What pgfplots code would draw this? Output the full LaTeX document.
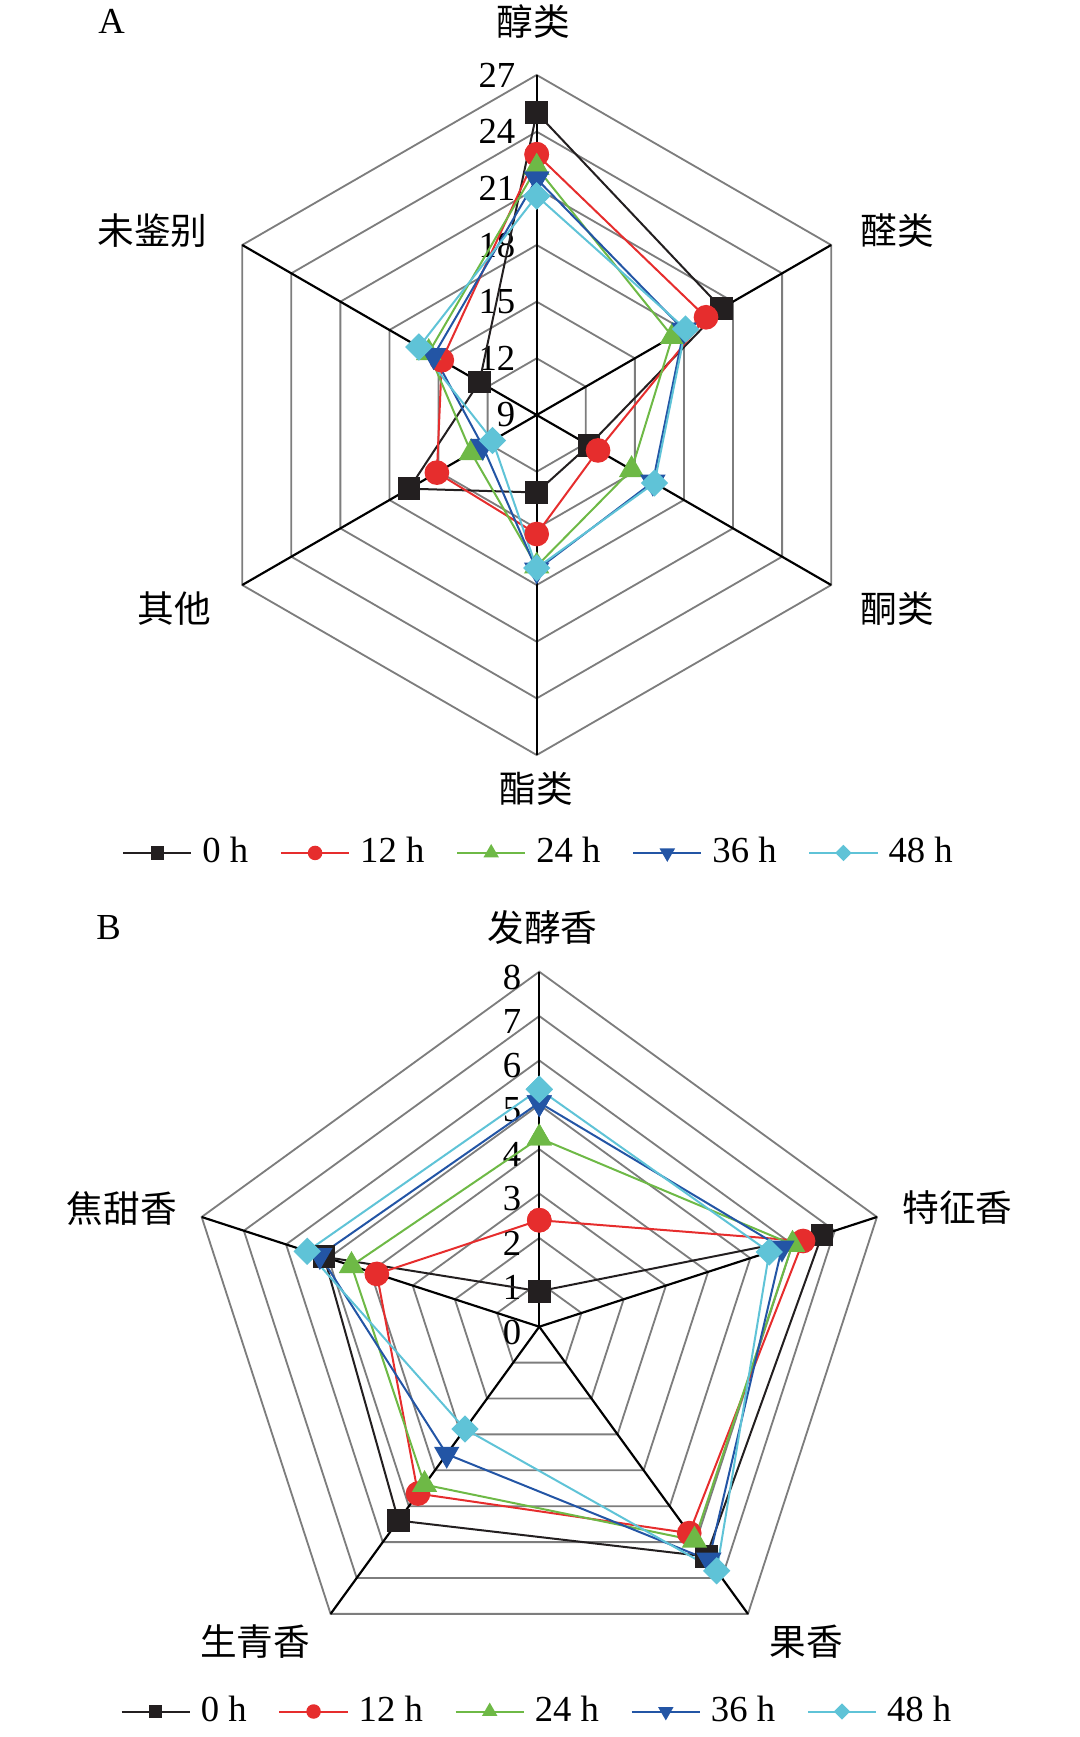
\documentclass[border=0pt]{standalone}
\usepackage{fontspec}
\setmainfont{Liberation Serif}
\newfontfamily\cjk{Noto Sans CJK SC}
\usepackage{pgfplots}
\usepackage{pgfplotstable}
\pgfplotsset{compat=1.18}
\definecolor{c0}{RGB}{35,31,32}
\definecolor{c12}{RGB}{230,45,45}
\definecolor{c24}{RGB}{110,185,70}
\definecolor{c36}{RGB}{35,85,165}
\definecolor{c48}{RGB}{95,195,215}
\definecolor{gridc}{RGB}{125,125,125}

% Panel A: angle (deg) and values per time point
\pgfplotstableread{
a    h0    h12    h24   h36   h48
90   25.0  22.8   22.1  21.5  20.6
30   20.3  19.35  17.3  18.0  18.1
-30  12.2  12.75  14.8  16.1  16.2
-90  13.1  15.3   17.0  17.2  17.1
-150 16.8  15.1   13.0  12.3  11.7
150  12.5  14.8   15.6  15.3  16.2
90   25.0  22.8   22.1  21.5  20.6
}\dataA

% Panel B
\pgfplotstableread{
a    h0    h12    h24   h36   h48
90   0.8   2.4    4.25  5.05  5.35
18   6.7   6.25   6.0   5.75  5.45
-54  6.4   5.75   5.95  6.5   6.8
-126 5.4   4.65   4.4   3.55  2.85
162  5.1   3.85   4.45  5.2   5.5
90   0.8   2.4    4.25  5.05  5.35
}\dataB

\pgfplotsset{
  radar/.style={
    hide axis, clip=false,
    legend columns=5,
    legend cell align=left,
    legend style={draw=none, fill=none, font=\fontsize{11pt}{13pt}\selectfont,
      /tikz/every odd column/.append style={column sep=1pt},
      /tikz/every even column/.append style={column sep=7.5pt}},
    legend image code/.code={\draw[mark repeat=2,mark phase=2,##1,every mark/.append style={scale=0.55}]
      plot coordinates {(0cm,0cm) (0.36cm,0cm) (0.72cm,0cm)};},
  },
  s0/.style={c0, line width=0.6pt, mark=square*, mark size=3.1pt, mark options={solid,fill=c0}},
  s12/.style={c12, line width=0.6pt, mark=*, mark size=3.4pt, mark options={solid,fill=c12}},
  s24/.style={c24, line width=0.6pt, mark=triangle*, mark size=3.8pt, mark options={solid,fill=c24}},
  s36/.style={c36, line width=0.6pt, mark=triangle*, mark size=3.8pt, mark options={solid,fill=c36,rotate=180}},
  s48/.style={c48, line width=0.6pt, mark=square*, mark size=2.6pt, mark options={solid,fill=c48,rotate=45}},
}

\begin{document}
\fontsize{11pt}{13pt}\selectfont
\begin{tikzpicture}[x=0.3pt,y=-0.3pt]
\useasboundingbox (0,0) rectangle (1080,1737);

% ---------- grid A ----------
\begin{scope}[shift={(161.01pt,-124.5pt)},x=5.667pt,y=5.667pt]
  \foreach \k in {3,6,...,18}
    \draw[gridc,line width=0.55pt] (90:\k)--(30:\k)--(-30:\k)--(-90:\k)--(-150:\k)--(150:\k)--cycle;
  \foreach \ang in {90,30,-30,-90,-150,150}
    \draw[black,line width=0.65pt] (0,0)--(\ang:18);
  \foreach \v in {9,12,...,27}
    \node[anchor=east,inner sep=0pt] at (-1.1,{\v-9}) {\v};
\end{scope}

% ---------- grid B ----------
\begin{scope}[shift={(161.79pt,-398.01pt)},x=13.3125pt,y=13.3125pt]
  \foreach \k in {1,...,8}
    \draw[gridc,line width=0.55pt] (90:\k)--(18:\k)--(-54:\k)--(-126:\k)--(162:\k)--cycle;
  \foreach \ang in {90,18,-54,-126,162}
    \draw[black,line width=0.65pt] (0,0)--(\ang:8);
  \foreach \v in {0,...,8}
    \node[anchor=east,inner sep=0pt] at (-0.39,{\v-0.12}) {\v};
\end{scope}

% ---------- axis A ----------
\begin{axis}[radar, at={(161.01pt,-124.5pt)}, anchor=center,
  x=5.667pt, y=5.667pt, xmin=-18, xmax=18, ymin=-18, ymax=18,
  legend style={at={(0.506,-0.144)}, anchor=center}]
\addplot[s0]  table[x expr={(\thisrow{h0}-9)*cos(\thisrow{a})},  y expr={(\thisrow{h0}-9)*sin(\thisrow{a})}]  {\dataA};
\addlegendentry{0 h}
\addplot[s12] table[x expr={(\thisrow{h12}-9)*cos(\thisrow{a})}, y expr={(\thisrow{h12}-9)*sin(\thisrow{a})}] {\dataA};
\addlegendentry{12 h}
\addplot[s24] table[x expr={(\thisrow{h24}-9)*cos(\thisrow{a})}, y expr={(\thisrow{h24}-9)*sin(\thisrow{a})}] {\dataA};
\addlegendentry{24 h}
\addplot[s36] table[x expr={(\thisrow{h36}-9)*cos(\thisrow{a})}, y expr={(\thisrow{h36}-9)*sin(\thisrow{a})}] {\dataA};
\addlegendentry{36 h}
\addplot[s48] table[x expr={(\thisrow{h48}-9)*cos(\thisrow{a})}, y expr={(\thisrow{h48}-9)*sin(\thisrow{a})}] {\dataA};
\addlegendentry{48 h}
\end{axis}

% ---------- axis B ----------
\begin{axis}[radar, at={(161.79pt,-398.01pt)}, anchor=center,
  x=13.3125pt, y=13.3125pt, xmin=-8, xmax=8, ymin=-8, ymax=8,
  legend style={at={(0.5,-0.042)}, anchor=center}]
\addplot[s0]  table[x expr={\thisrow{h0}*cos(\thisrow{a})},  y expr={\thisrow{h0}*sin(\thisrow{a})}]  {\dataB};
\addlegendentry{0 h}
\addplot[s12] table[x expr={\thisrow{h12}*cos(\thisrow{a})}, y expr={\thisrow{h12}*sin(\thisrow{a})}] {\dataB};
\addlegendentry{12 h}
\addplot[s24] table[x expr={\thisrow{h24}*cos(\thisrow{a})}, y expr={\thisrow{h24}*sin(\thisrow{a})}] {\dataB};
\addlegendentry{24 h}
\addplot[s36] table[x expr={\thisrow{h36}*cos(\thisrow{a})}, y expr={\thisrow{h36}*sin(\thisrow{a})}] {\dataB};
\addlegendentry{36 h}
\addplot[s48] table[x expr={\thisrow{h48}*cos(\thisrow{a})}, y expr={\thisrow{h48}*sin(\thisrow{a})}] {\dataB};
\addlegendentry{48 h}
\end{axis}

% ---------- labels ----------
\node[font=\fontsize{11pt}{13pt}\selectfont] at (111.7,21) {A};
\node[font=\fontsize{11pt}{13pt}\selectfont] at (108.6,928) {B};
\begin{scope}[every node/.style={font=\cjk\fontsize{11pt}{13pt}\selectfont}]
\node at (533,21) {醇类};
\node at (897,231) {醛类};
\node at (897,609) {酮类};
\node at (536,789) {酯类};
\node at (174,609) {其他};
\node at (152.5,231) {未鉴别};
\node at (542.5,928) {发酵香};
\node at (957.5,1208) {特征香};
\node at (806,1642) {果香};
\node at (255,1642) {生青香};
\node at (121.7,1208) {焦甜香};
\end{scope}
\end{tikzpicture}
\end{document}
